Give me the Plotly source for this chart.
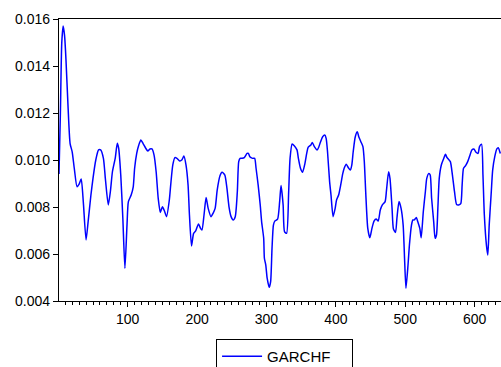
import plotly.graph_objects as go

obs = [1, 3, 5, 7, 9, 11, 14, 17, 20, 23, 27, 30, 33, 36, 40, 43, 47, 50, 54, 58,
       61, 65, 68, 72, 75, 78, 82, 85, 87, 90, 93, 96, 99, 101, 105, 108, 110, 113, 116, 119,
       122, 126, 129, 132, 135, 138, 141, 144, 147, 150, 153, 156, 160, 162, 165, 168, 171, 175, 178, 181,
       184, 187, 189, 192, 195, 198, 202, 205, 207, 210, 213, 216, 220, 223, 226, 229, 233, 236, 240, 243,
       246, 249, 252, 255, 258, 260, 262, 265, 268, 272, 274, 276, 280, 283, 285, 288, 291, 293, 296, 297,
       299, 301, 304, 306, 308, 310, 312, 316, 319, 321, 324, 326, 329, 332, 334, 337, 340, 344, 346, 349,
       352, 355, 358, 360, 364, 366, 369, 373, 375, 378, 381, 384, 386, 388, 391, 393, 396, 399, 401, 404,
       407, 410, 412, 415, 418, 421, 423, 425, 428, 431, 433, 436, 439, 441, 443, 446, 449, 452, 455, 458,
       461, 464, 467, 471, 473, 476, 478, 481, 483, 486, 488, 491, 494, 497, 499, 501, 504, 506, 509, 511,
       513, 516, 518, 521, 523, 526, 529, 531, 534, 536, 538, 541, 543, 545, 547, 549, 552, 555, 558, 560,
       562, 565, 568, 571, 574, 577, 580, 582, 584, 587, 590, 593, 596, 599, 602, 605, 607, 610, 612, 614,
       617, 619, 621, 624, 626, 629, 632, 634, 637]

garchf = [0.00940, 0.01200, 0.01500, 0.01570, 0.01530, 0.01430, 0.01230, 0.01070, 0.01035, 0.00965,
          0.00886, 0.00897, 0.00919, 0.00823, 0.00660, 0.00738, 0.00851, 0.00922, 0.01000, 0.01043,
          0.01043, 0.01007, 0.00915, 0.00809, 0.00865, 0.00950, 0.01007, 0.01071, 0.01050, 0.00936,
          0.00752, 0.00539, 0.00723, 0.00823, 0.00851, 0.00886, 0.00965, 0.01028, 0.01064, 0.01085,
          0.01071, 0.01050, 0.01038, 0.01047, 0.01047, 0.01021, 0.00950, 0.00837, 0.00777, 0.00801,
          0.00783, 0.00759, 0.00830, 0.00894, 0.00979, 0.01010, 0.01007, 0.00996, 0.01000, 0.01017,
          0.00979, 0.00894, 0.00766, 0.00634, 0.00688, 0.00698, 0.00728, 0.00709, 0.00702, 0.00766,
          0.00840, 0.00794, 0.00759, 0.00773, 0.00794, 0.00872, 0.00933, 0.00948, 0.00936, 0.00880,
          0.00801, 0.00759, 0.00745, 0.00759, 0.00865, 0.00993, 0.01007, 0.01007, 0.01010, 0.01028,
          0.01028, 0.01014, 0.01007, 0.01007, 0.00965, 0.00894, 0.00809, 0.00738, 0.00667, 0.00582,
          0.00553, 0.00497, 0.00458, 0.00482, 0.00624, 0.00723, 0.00740, 0.00748, 0.00823, 0.00891,
          0.00809, 0.00695, 0.00688, 0.00865, 0.01007, 0.01068, 0.01061, 0.01043, 0.01007, 0.00965,
          0.00948, 0.00979, 0.01028, 0.01054, 0.01064, 0.01075, 0.01057, 0.01043, 0.01052, 0.01078,
          0.01099, 0.01106, 0.01092, 0.01035, 0.00908, 0.00851, 0.00759, 0.00794, 0.00830, 0.00851,
          0.00894, 0.00943, 0.00965, 0.00982, 0.00967, 0.00957, 0.00979, 0.01035, 0.01099, 0.01120,
          0.01099, 0.01078, 0.01057, 0.00993, 0.00865, 0.00709, 0.00669, 0.00709, 0.00740, 0.00749,
          0.00740, 0.00787, 0.00809, 0.00823, 0.00872, 0.00950, 0.00922, 0.00794, 0.00706, 0.00692,
          0.00752, 0.00823, 0.00794, 0.00723, 0.00582, 0.00454, 0.00553, 0.00638, 0.00723, 0.00745,
          0.00745, 0.00755, 0.00738, 0.00709, 0.00669, 0.00780, 0.00865, 0.00922, 0.00943, 0.00936,
          0.00837, 0.00738, 0.00667, 0.00681, 0.00794, 0.00922, 0.00979, 0.01003, 0.01024, 0.01011,
          0.01004, 0.00993, 0.00936, 0.00865, 0.00811, 0.00809, 0.00814, 0.00894, 0.00965, 0.00976,
          0.00993, 0.01018, 0.01043, 0.01047, 0.01033, 0.01028, 0.01057, 0.01067, 0.00936, 0.00766,
          0.00638, 0.00596, 0.00723, 0.00865, 0.00957, 0.01014, 0.01047, 0.01052, 0.01028]

y_ticks = [0.004, 0.006, 0.008, 0.010, 0.012, 0.014, 0.016]
y_ticklabels = ["0.004", "0.006", "0.008", "0.010", "0.012", "0.014", "0.016"]
x_ticks = [100, 200, 300, 400, 500, 600]
x_ticklabels = ["100", "200", "300", "400", "500", "600"]

FONT = "Liberation Sans, Arial, Helvetica, sans-serif"

fig = go.Figure()
fig.add_trace(go.Scatter(
    x=obs, y=garchf, mode="lines", name="GARCHF",
    line=dict(color="#0000FF", width=1.5, shape="spline", smoothing=0.6),
))

fig.update_layout(
    width=501, height=367,
    margin=dict(l=59, r=0, t=19, b=66),
    paper_bgcolor="white", plot_bgcolor="white",
    font=dict(family=FONT, size=14, color="black"),
    showlegend=True,
    legend=dict(
        orientation="h", xref="container", yref="container",
        x=0.568, y=0.0763, xanchor="center", yanchor="top",
        bordercolor="black", borderwidth=1, bgcolor="white",
        font=dict(family=FONT, size=15, color="black"),
        entrywidth=80, itemwidth=40,
    ),
    xaxis=dict(
        range=[1, 638], showgrid=False, zeroline=False,
        showline=True, linecolor="black", linewidth=1.3, mirror=True,
        tickmode="array", tickvals=x_ticks, ticktext=x_ticklabels,
        ticks="outside", ticklen=5, tickcolor="black", tickwidth=1,
        minor=dict(dtick=10, tick0=0, ticks="outside", ticklen=3, tickcolor="black", tickwidth=1),
        tickfont=dict(size=14),
    ),
    yaxis=dict(
        range=[0.004, 0.016], showgrid=False, zeroline=False,
        showline=True, linecolor="black", linewidth=1.3, mirror=False,
        tickmode="array", tickvals=y_ticks, ticktext=y_ticklabels,
        ticks="outside", ticklen=5, tickcolor="black", tickwidth=1,
        tickfont=dict(size=14),
    ),
)

fig.write_html("out.html")
